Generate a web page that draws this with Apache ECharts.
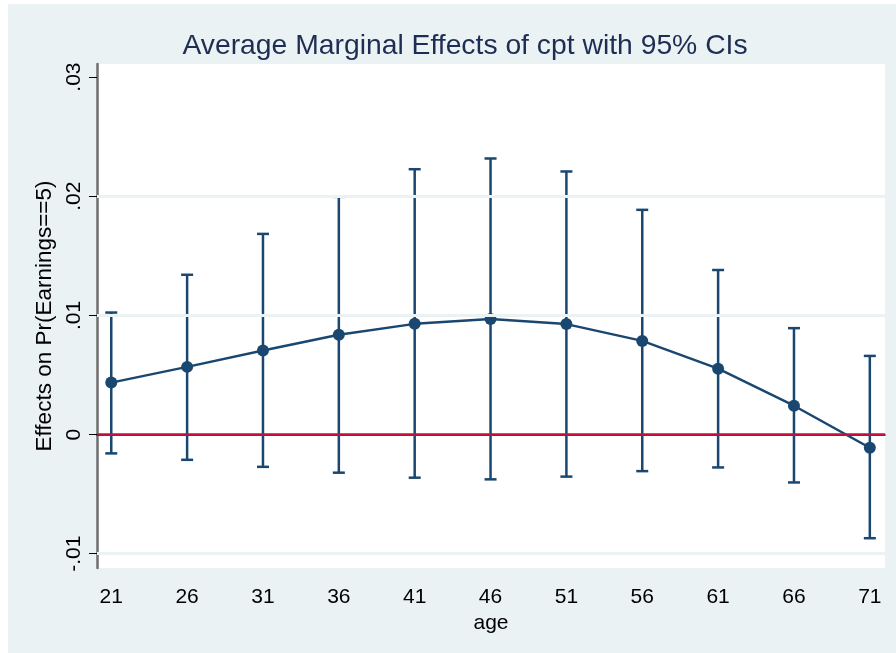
<!DOCTYPE html>
<html>
<head>
<meta charset="utf-8">
<script src="https://cdn.jsdelivr.net/npm/echarts@6/dist/echarts.min.js"></script>
<style>
  html, body { margin: 0; padding: 0; background: #fff; }
  #chart { width: 896px; height: 653px; }
</style>
</head>
<body>
<div id="chart"></div>
<script>
// ages (x) and the margins with their 95% limits
var ages = [21, 26, 31, 36, 41, 46, 51, 56, 61, 66, 71];
var margins = [0.00436, 0.00568, 0.00705, 0.00837, 0.00929, 0.00969, 0.00927, 0.00786, 0.00553, 0.00242, -0.00111];
var upper = [0.01024, 0.01341, 0.01684, 0.01995, 0.02227, 0.02317, 0.02208, 0.01886, 0.01381, 0.00893, 0.0066];
var lower = [-0.00158, -0.00212, -0.00271, -0.0032, -0.00362, -0.00376, -0.00353, -0.00307, -0.00276, -0.00402, -0.0087];
var yTicks = [-0.01, 0, 0.01, 0.02, 0.03];
var gridLines = [-0.01, 0.01, 0.02];

var navy = '#1a476f';
var bg = '#eaf2f3';

var chart = echarts.init(document.getElementById('chart'));

var ciData = ages.map(function (a, i) { return [a, lower[i], upper[i]]; });
var lineData = ages.map(function (a, i) { return [a, margins[i]]; });

var option = {
  animation: false,
  backgroundColor: '#fff',
  graphic: [{
    type: 'rect', z: -10,
    shape: { x: 8, y: 4, width: 888, height: 649 },
    style: { fill: bg }
  }],
  title: {
    text: 'Average Marginal Effects of cpt with 95% CIs',
    left: 460, top: 27, textAlign: 'center',
    textStyle: { fontFamily: 'Liberation Sans', fontWeight: 'normal', fontSize: 28.3, color: '#1e2d54' }
  },
  grid: {
    left: 97, right: 11, top: 64, bottom: 85,
    show: true, backgroundColor: '#fff', borderWidth: 0
  },
  xAxis: {
    type: 'value', min: 20.06, max: 72,
    name: 'age', nameLocation: 'middle', nameGap: 41,
    nameTextStyle: { fontFamily: 'Liberation Sans', fontSize: 21, color: '#000' },
    axisLine: { lineStyle: { color: '#000', width: 1.5 } },
    axisTick: { customValues: ages, length: 7, lineStyle: { color: '#000', width: 1 } },
    axisLabel: { customValues: ages, margin: 19, fontFamily: 'Liberation Sans', fontSize: 21, color: '#000' },
    splitLine: { show: false }
  },
  yAxis: {
    type: 'value', min: -0.0112, max: 0.0311,
    name: 'Effects on Pr(Earnings==5)', nameLocation: 'middle', nameGap: 36, nameRotate: 90,
    nameTextStyle: { fontFamily: 'Liberation Sans', fontSize: 22.5, color: '#000' },
    axisLine: { show: true, lineStyle: { color: '#6e6e6e', width: 2.5 } },
    axisTick: { show: true, customValues: yTicks, length: 8, lineStyle: { color: '#000', width: 1 } },
    axisLabel: {
      customValues: yTicks, rotate: 90, margin: 12,
      fontFamily: 'Liberation Sans', fontSize: 21, color: '#000',
      formatter: function (v) {
        if (Math.abs(v) < 1e-9) return '0';
        return v.toFixed(2).replace('0.', '.');
      }
    },
    splitLine: { show: false }
  },
  series: [
    {
      type: 'line', data: [], silent: true, z: 1,
      markLine: {
        silent: true, symbol: 'none', label: { show: false },
        data: gridLines.map(function (g) {
          return { yAxis: g, lineStyle: { color: bg, width: 3, type: 'solid' } };
        }).concat([{ yAxis: 0, lineStyle: { color: '#c4103c', width: 2.5, type: 'solid' } }])
      }
    },
    {
      type: 'custom', z: 3, silent: true,
      data: ciData,
      renderItem: function (params, api) {
        var x = api.value(0);
        var top = api.coord([x, api.value(2)]);
        var bot = api.coord([x, api.value(1)]);
        var hw = 6;
        var st = { stroke: navy, lineWidth: 2.5 };
        return {
          type: 'group',
          children: [
            { type: 'line', shape: { x1: top[0], y1: top[1], x2: bot[0], y2: bot[1] }, style: st },
            { type: 'line', shape: { x1: top[0] - hw, y1: top[1], x2: top[0] + hw, y2: top[1] }, style: st },
            { type: 'line', shape: { x1: bot[0] - hw, y1: bot[1], x2: bot[0] + hw, y2: bot[1] }, style: st }
          ]
        };
      }
    },
    {
      type: 'line', z: 4, data: lineData,
      symbol: 'circle', symbolSize: 12,
      lineStyle: { color: navy, width: 2.5 },
      itemStyle: { color: navy },
      silent: true
    }
  ]
};

chart.setOption(option);
</script>
</body>
</html>
